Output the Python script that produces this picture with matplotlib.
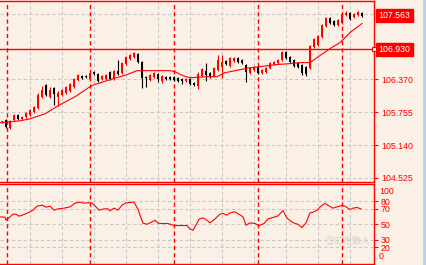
import matplotlib
matplotlib.use("Agg")
import matplotlib.pyplot as plt
from matplotlib.patches import Rectangle

# candle OHLC, one per bar
opens = [105.575, 105.613, 105.463, 105.613, 105.706, 105.631, 105.669, 105.706, 105.763, 105.838,
         106.044, 106.269, 106.044, 106.213, 106.044, 106.082, 106.119, 106.157, 106.232, 106.363,
         106.438, 106.438, 106.382, 106.513, 106.475, 106.382, 106.382, 106.513, 106.382, 106.532,
         106.494, 106.663, 106.757, 106.794, 106.850, 106.700, 106.419, 106.363, 106.419, 106.475,
         106.344, 106.419, 106.419, 106.419, 106.400, 106.382, 106.344, 106.382, 106.307, 106.250,
         106.438, 106.532, 106.494, 106.438, 106.550, 106.607, 106.719, 106.625, 106.719, 106.775,
         106.738, 106.644, 106.494, 106.550, 106.607, 106.494, 106.513, 106.588, 106.663, 106.682,
         106.738, 106.888, 106.794, 106.738, 106.682, 106.644, 106.607, 106.588, 106.982, 107.019,
         107.169, 107.375, 107.525, 107.469, 107.394, 107.432, 107.582, 107.619, 107.544, 107.582,
         107.619]
closes = [105.575, 105.481, 105.594, 105.706, 105.631, 105.669, 105.744, 105.800, 105.856, 106.082,
          106.175, 106.082, 106.175, 106.100, 106.119, 106.175, 106.232, 106.288, 106.382, 106.457,
          106.400, 106.419, 106.494, 106.475, 106.344, 106.438, 106.457, 106.382, 106.532, 106.475,
          106.682, 106.794, 106.832, 106.869, 106.700, 106.400, 106.400, 106.457, 106.494, 106.382,
          106.438, 106.382, 106.382, 106.363, 106.344, 106.344, 106.382, 106.288, 106.269, 106.475,
          106.569, 106.457, 106.419, 106.588, 106.738, 106.700, 106.663, 106.775, 106.775, 106.700,
          106.682, 106.513, 106.588, 106.607, 106.494, 106.550, 106.588, 106.682, 106.700, 106.738,
          106.888, 106.775, 106.700, 106.625, 106.607, 106.494, 106.475, 107.000, 107.132, 107.188,
          107.394, 107.525, 107.432, 107.394, 107.488, 107.600, 107.619, 107.507, 107.600, 107.638,
          107.563]
highs = [105.594, 105.631, 105.613, 105.725, 105.725, 105.688, 105.763, 105.819, 105.875, 106.119,
         106.250, 106.288, 106.232, 106.232, 106.157, 106.194, 106.250, 106.307, 106.400, 106.475,
         106.457, 106.457, 106.513, 106.532, 106.494, 106.457, 106.475, 106.532, 106.550, 106.738,
         106.700, 106.813, 106.850, 106.888, 106.869, 106.719, 106.438, 106.475, 106.513, 106.494,
         106.457, 106.438, 106.438, 106.438, 106.419, 106.400, 106.400, 106.400, 106.325, 106.513,
         106.588, 106.682, 106.513, 106.607, 106.832, 106.832, 106.738, 106.794, 106.794, 106.794,
         106.757, 106.663, 106.607, 106.625, 106.625, 106.569, 106.607, 106.700, 106.719, 106.757,
         106.907, 106.907, 106.813, 106.757, 106.700, 106.663, 106.625, 107.019, 107.150, 107.207,
         107.413, 107.544, 107.544, 107.488, 107.507, 107.619, 107.657, 107.638, 107.619, 107.657,
         107.638]
lows = [105.556, 105.463, 105.444, 105.594, 105.613, 105.613, 105.650, 105.688, 105.744, 105.819,
        106.025, 106.063, 106.025, 105.894, 105.875, 106.063, 106.100, 106.138, 106.213, 106.344,
        106.382, 106.400, 106.363, 106.457, 106.325, 106.363, 106.363, 106.363, 106.363, 106.457,
        106.475, 106.644, 106.738, 106.775, 106.682, 106.213, 106.232, 106.344, 106.400, 106.325,
        106.307, 106.363, 106.363, 106.344, 106.325, 106.288, 106.325, 106.269, 106.250, 106.194,
        106.419, 106.344, 106.400, 106.419, 106.532, 106.400, 106.644, 106.607, 106.700, 106.682,
        106.663, 106.325, 106.475, 106.532, 106.475, 106.475, 106.494, 106.569, 106.644, 106.663,
        106.719, 106.757, 106.682, 106.607, 106.588, 106.457, 106.438, 106.569, 106.963, 107.000,
        107.150, 107.357, 107.413, 107.375, 107.375, 107.413, 107.563, 107.488, 107.525, 107.563,
        107.544]

# moving average (bar position, price)
ma_x = [-0.5, 4.5, 7, 10.75, 14, 18.25, 22, 23, 27, 31.25, 33.75, 37, 42, 43.25, 45.25, 47,
        51.25, 53.75, 55.75, 59.5, 62, 64.5, 68.25, 72, 74.5, 77, 78.75, 82, 84.5, 87, 90]
ma_y = [105.556, 105.594, 105.631, 105.725, 105.875, 106.044, 106.232, 106.269, 106.363, 106.457,
        106.532, 106.532, 106.532, 106.513, 106.438, 106.400, 106.419, 106.419, 106.494, 106.550,
        106.588, 106.607, 106.644, 106.663, 106.682, 106.682, 106.775, 106.944, 107.057, 107.244,
        107.413]

# oscillator in lower panel (bar position, value)
osc_x = [-0.5, 0.75, 1, 2, 2.75, 3.5, 4.25, 5.25, 6.5, 7.75, 8.75, 10, 11, 12, 13, 14, 15.5, 17,
         18.25, 19.5, 20.5, 21.5, 22.5, 23.25, 24.25, 25.5, 26.5, 27, 28, 29, 30, 31, 33, 34,
         34.75, 35.25, 36.25, 37.5, 38.25, 39, 40, 41.5, 42.75, 43.75, 46.25, 47, 47.75, 48.75,
         49.25, 50.25, 51.25, 52, 53.25, 54.5, 55.25, 56.25, 57, 58.25, 59.5, 60.25, 61, 62,
         63.25, 64.25, 65.5, 66.5, 67.75, 69, 70.25, 71.25, 72.5, 73.25, 74, 75, 76, 77, 77.75,
         78.75, 79.75, 80.75, 81.75, 82.75, 83.75, 85, 85.75, 87, 87.75, 88.75, 89.75]
osc_y = [59.5, 59.1, 55.2, 59.5, 63.0, 63.0, 60.4, 62.1, 64.7, 68.2, 73.4, 74.7, 72.1, 73.4, 68.2,
         69.9, 70.8, 72.5, 77.3, 78.6, 77.3, 77.7, 77.3, 73.8, 68.2, 69.9, 69.9, 67.3, 70.8, 68.2,
         74.7, 77.7, 78.6, 69.5, 57.8, 51.3, 50.0, 53.0, 55.2, 51.3, 50.9, 50.9, 48.7, 48.3, 48.3,
         43.8, 42.1, 51.3, 56.5, 58.2, 55.2, 51.7, 56.9, 63.0, 63.9, 61.7, 64.7, 66.0, 62.1, 59.5,
         48.7, 51.7, 50.9, 48.3, 50.9, 56.9, 58.7, 60.8, 67.8, 57.8, 53.0, 50.9, 50.0, 45.6, 51.7,
         64.7, 65.6, 68.2, 73.4, 77.0, 73.8, 70.8, 72.5, 74.3, 73.4, 69.1, 70.8, 71.7, 69.9]

price_ticks = [104.525, 105.140, 105.755, 106.370]
grid_prices = [104.525, 105.140, 105.755, 106.370, 107.600]
last_price = 107.563
level_price = 106.930
osc_ticks = [20, 30, 50, 70, 80]
osc_grid = [20, 30, 50, 70, 80]

bg = "#FBF0E6"
red = "#FF0000"
gray = "#C8C8C8"
W, H = 427, 265

plt.rcParams["font.family"] = ["Liberation Sans", "DejaVu Sans"]
fig = plt.figure(figsize=(W / 100, H / 100), dpi=100)
fig.patch.set_facecolor(bg)
fig.patches.append(Rectangle((423 / W, 0), 4 / W, 1, transform=fig.transFigure,
                             facecolor="#B9D1EA", edgecolor="none"))

ax = fig.add_axes([0, 1 - 182 / H, 374 / W, 181.5 / H])
ax2 = fig.add_axes([0, 1 - 263.5 / H, 374 / W, 79.5 / H])

n = len(opens)
xs = list(range(n))
for a in (ax, ax2):
    a.set_facecolor(bg)
    a.set_xlim(-0.5, 93)
    a.spines["left"].set_visible(False)
    for s in ("top", "right", "bottom"):
        a.spines[s].set_color(red)
        a.spines[s].set_linewidth(1.0)
    a.set_xticks([])
    a.yaxis.tick_right()
    a.tick_params(axis="y", colors=red, labelcolor=red, length=3, width=0.8,
                  pad=2, labelsize=6.3)
    # vertical grid and separators
    for gx in range(7, 92, 8):
        a.axvline(gx, color=gray, lw=0.8, ls=(0, (3, 2.2)), zorder=0)
    for sx in (1.2, 22, 43, 64, 85):
        a.axvline(sx, color=red, lw=1.0, ls=(0, (3, 2.2)), zorder=1)

# main panel
ax.set_ylim(104.450, 107.844)
ax.set_yticks(price_ticks)
ax.set_yticklabels(["%.3f" % t for t in price_ticks])
for gp in grid_prices:
    ax.axhline(gp, color=gray, lw=0.8, ls=(0, (3, 2.2)), zorder=0)

for i in xs:
    up = closes[i] >= opens[i]
    c = red if up else "black"
    ax.vlines(i, lows[i], highs[i], color=c, lw=0.8, zorder=3)
    lo, hi = min(opens[i], closes[i]), max(opens[i], closes[i])
    ax.bar(i, max(hi - lo, 0.012), bottom=lo, width=0.72, color=c, lw=0, zorder=4)

ax.plot(ma_x, ma_y, color=red, lw=0.8, zorder=5)

ax.axhline(level_price, color=red, lw=1.0, zorder=2)
ax.plot([93], [level_price], marker="s", ms=3.5, mfc="white", mec=red, mew=0.8,
        clip_on=False, zorder=6)
for val in (last_price, level_price):
    ax.text(1.012, val, "%.3f" % val, transform=ax.get_yaxis_transform(), color="white",
            fontsize=6.3, va="center", ha="left",
            bbox=dict(boxstyle="square,pad=0.25", fc=red, ec=red), clip_on=False)

# lower panel
ax2.set_ylim(-0.9, 102.1)
ax2.set_yticks(osc_ticks)
ax2.set_yticklabels([str(t) for t in osc_ticks])
for gv in osc_grid:
    ax2.axhline(gv, color=gray, lw=0.8, ls=(0, (3, 2.2)), zorder=0)
ax2.plot(osc_x, osc_y, color=red, lw=0.8, zorder=5)
ytr = ax2.get_yaxis_transform()
ax2.text(1.0 + 5 / 374, 93, "100", transform=ytr, color=red, fontsize=6.3,
         va="center", ha="left", clip_on=False)
ax2.text(1.0 + 5 / 374, 8, "0", transform=ytr, color=red, fontsize=6.3,
         va="center", ha="left", clip_on=False)

fig.text(326 / W, 1 - 241 / H, "◎汇市散人", color="#D2D2D2", fontsize=6.5,
         family=["Noto Sans CJK SC", "DejaVu Sans"], va="center", ha="left")

fig.savefig("out.png", dpi=100, facecolor=bg)
